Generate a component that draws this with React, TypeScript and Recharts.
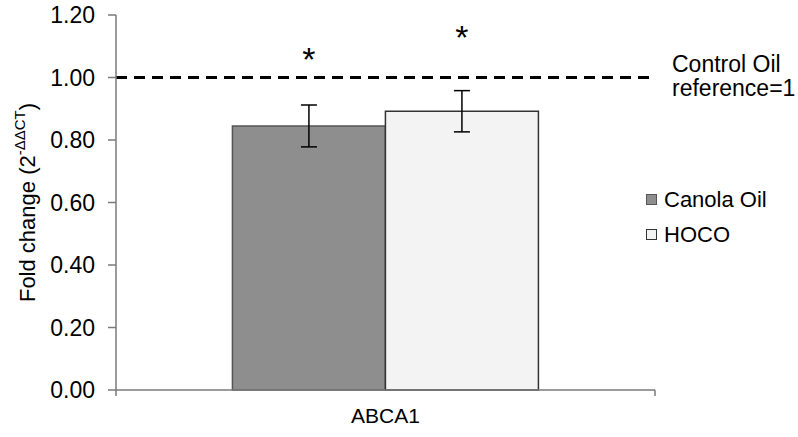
import {
  Bar,
  BarChart,
  ErrorBar,
  LabelList,
  ReferenceLine,
  XAxis,
  YAxis,
  Label,
} from 'recharts'

const categories = ['ABCA1']
const canolaValues = [0.845]
const canolaErrors = [0.067]
const hocoValues = [0.892]
const hocoErrors = [0.066]
// where the significance asterisks sit, in fold-change units
const canolaStars = [1.082]
const hocoStars = [1.152]
const yTicks = [0, 0.2, 0.4, 0.6, 0.8, 1.0, 1.2]

const seriesInfo = [
  { key: 'canola', name: 'Canola Oil', fill: '#8e8e8e', stroke: '#555555' },
  { key: 'hoco', name: 'HOCO', fill: '#f3f3f3', stroke: '#333333' },
]

const chartData = categories.map((name, i) => ({
  name,
  canola: canolaValues[i],
  canolaErr: canolaErrors[i],
  canolaStar: canolaStars[i],
  hoco: hocoValues[i],
  hocoErr: hocoErrors[i],
  hocoStar: hocoStars[i],
}))

const font = '"Liberation Sans", Arial, sans-serif'

function starLabel(values: number[]) {
  return (props: any) => {
    const { x, y, width, height, value, index } = props
    const perUnit = Number(height) / values[index]
    const cy = Number(y) + Number(height) - Number(value) * perUnit
    return (
      <text
        x={Number(x) + Number(width) / 2}
        y={cy + 19}
        textAnchor="middle"
        fontFamily={font}
        fontSize={34}
        fill="#000"
      >
        *
      </text>
    )
  }
}

function CategoryTick(props: any) {
  const { x, y, payload } = props
  const half = payload.offset ?? 0
  return (
    <g>
      <line x1={x - half} x2={x - half} y1={y} y2={y + 6} stroke="#7a7a7a" strokeWidth={1.5} />
      <line x1={x + half} x2={x + half} y1={y} y2={y + 6} stroke="#7a7a7a" strokeWidth={1.5} />
      <text x={x} y={y + 33} textAnchor="middle" fontFamily={font} fontSize={21} fill="#000">
        {payload.value}
      </text>
    </g>
  )
}

function YLabel(props: any) {
  const vb = props.viewBox
  const cx = 27
  const cy = vb.y + vb.height / 2
  return (
    <text
      transform={`rotate(-90, ${cx}, ${cy})`}
      x={cx}
      y={cy + 8}
      textAnchor="middle"
      fontFamily={font}
      fontSize={22}
      fill="#000"
    >
      Fold change (2
      <tspan fontSize={15} dy={-10}>
        -ΔΔCT
      </tspan>
      <tspan dy={10}>)</tspan>
    </text>
  )
}

function RefLabel(props: any) {
  const vb = props.viewBox
  const x = vb.x + vb.width + 17
  return (
    <text fontFamily={font} fontSize={23} fill="#000">
      <tspan x={x} y={vb.y - 6}>
        Control Oil
      </tspan>
      <tspan x={x} y={vb.y + 18}>
        reference=1
      </tspan>
    </text>
  )
}

export default function App() {
  return (
    <div style={{ position: 'absolute', left: 0, top: 0, width: 798, height: 437, background: '#fff' }}>
      <BarChart
        width={798}
        height={437}
        data={chartData}
        margin={{ top: 15, right: 143, bottom: 0, left: 0 }}
        barCategoryGap="21.6%"
        barGap={0}
      >
        <XAxis
          dataKey="name"
          height={47}
          axisLine={{ stroke: '#7a7a7a', strokeWidth: 1.5 }}
          tickLine={false}
          tickSize={0}
          tickMargin={0}
          tick={<CategoryTick />}
        />
        <YAxis
          width={116}
          domain={[0, 1.2]}
          ticks={yTicks}
          tickFormatter={(v: number) => v.toFixed(2)}
          axisLine={{ stroke: '#7a7a7a', strokeWidth: 1.5 }}
          tickLine={{ stroke: '#7a7a7a', strokeWidth: 1.5 }}
          tickSize={8}
          tickMargin={13}
          tick={{ fill: '#000', fontSize: 23, fontFamily: font }}
        >
          <Label content={<YLabel />} />
        </YAxis>
        <ReferenceLine
          y={1}
          stroke="#000"
          strokeWidth={3}
          strokeDasharray="11 7"
          label={<RefLabel />}
        />
        <Bar
          dataKey="canola"
          name="Canola Oil"
          fill={seriesInfo[0].fill}
          stroke={seriesInfo[0].stroke}
          strokeWidth={1.5}
          isAnimationActive={false}
        >
          <ErrorBar dataKey="canolaErr" width={8} stroke="#000" strokeWidth={1.5} />
          <LabelList dataKey="canolaStar" content={starLabel(canolaValues)} />
        </Bar>
        <Bar
          dataKey="hoco"
          name="HOCO"
          fill={seriesInfo[1].fill}
          stroke={seriesInfo[1].stroke}
          strokeWidth={1.5}
          isAnimationActive={false}
        >
          <ErrorBar dataKey="hocoErr" width={8} stroke="#000" strokeWidth={1.5} />
          <LabelList dataKey="hocoStar" content={starLabel(hocoValues)} />
        </Bar>
      </BarChart>
      <div style={{ position: 'absolute', left: 646, top: 182, fontFamily: font, fontSize: 22 }}>
        {seriesInfo.map((s) => (
          <div key={s.key} style={{ display: 'flex', alignItems: 'center', height: 35 }}>
            <span
              style={{
                width: 9,
                height: 9,
                background: s.fill,
                border: `1px solid ${s.stroke}`,
                marginRight: 7,
              }}
            />
            <span>{s.name}</span>
          </div>
        ))}
      </div>
    </div>
  )
}
